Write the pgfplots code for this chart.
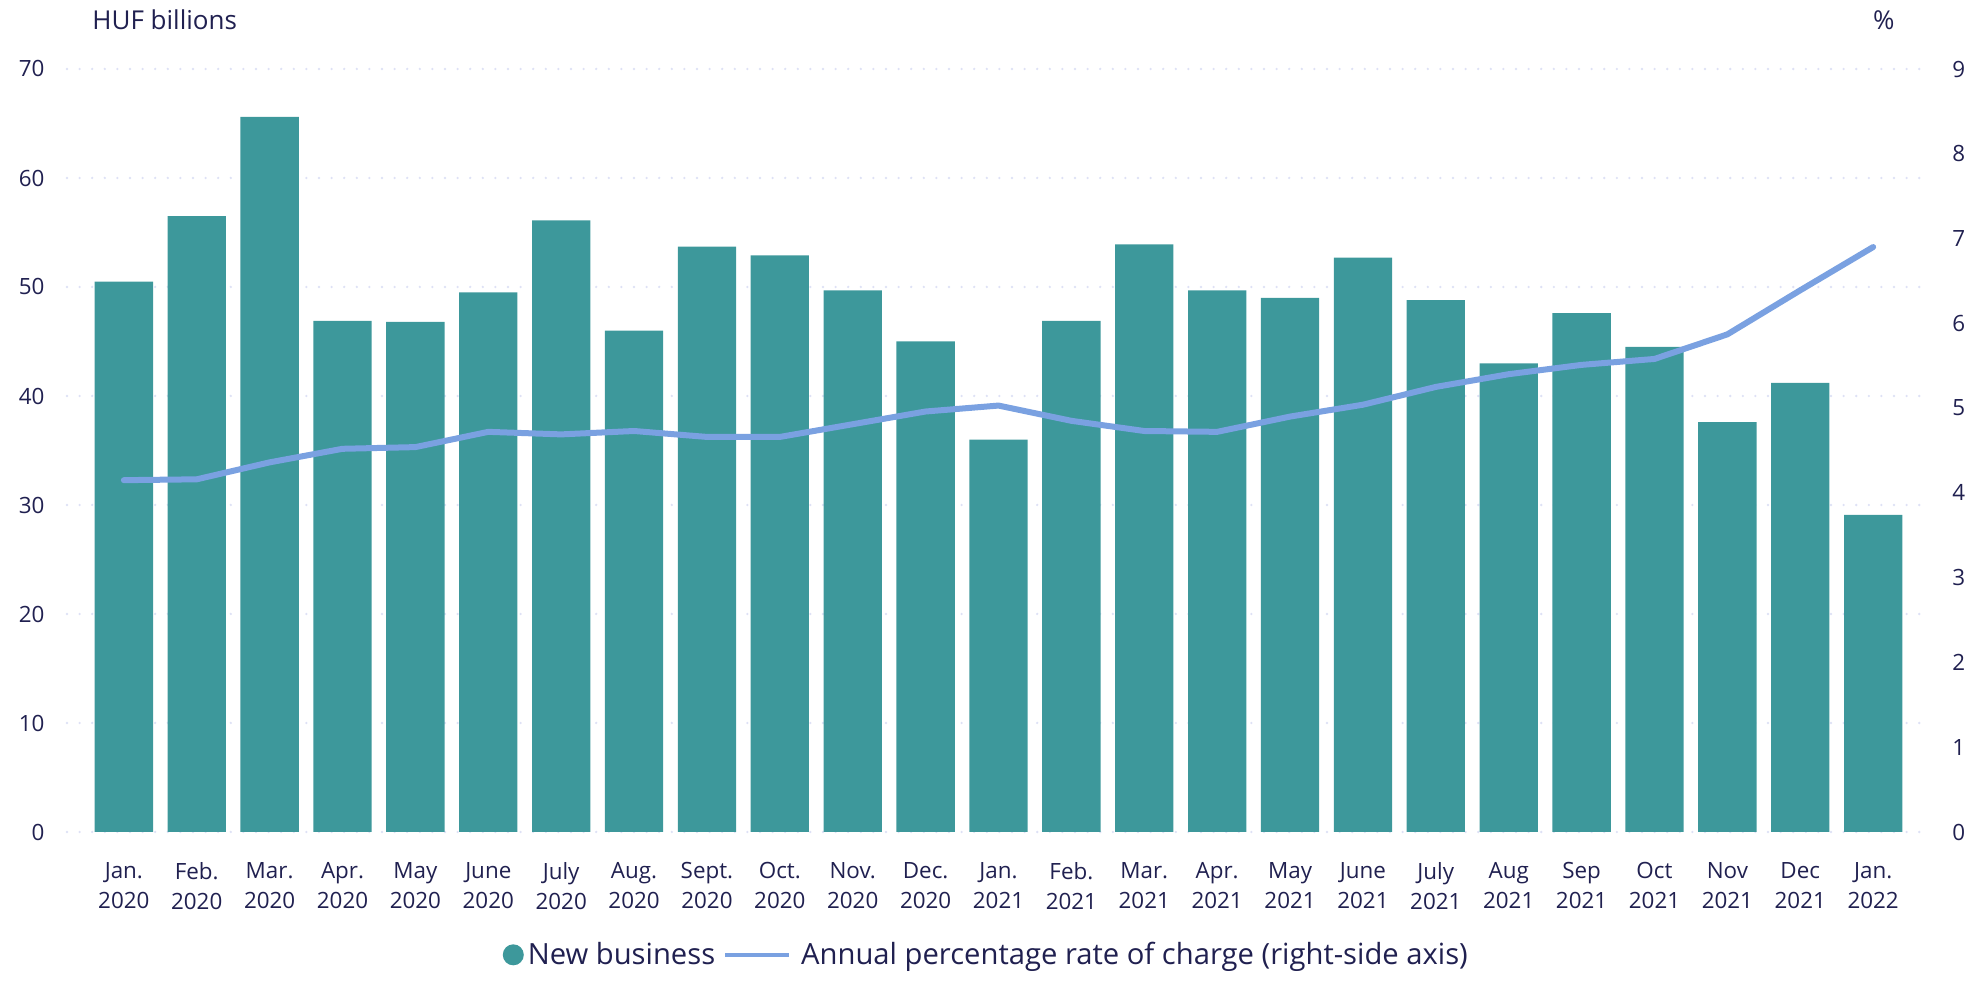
\documentclass[border=0pt]{standalone}
\usepackage{fontspec}
\setmainfont{Open Sans}
\usepackage{pgfplots}
\pgfplotsset{compat=1.18}
\definecolor{barc}{RGB}{61,152,155}
\definecolor{linec}{RGB}{122,161,225}
\definecolor{txt}{RGB}{32,32,80}
\definecolor{gridc}{RGB}{222,225,245}
\begin{document}
\begin{tikzpicture}
\path[use as bounding box] (-33.5pt,-83.5pt) rectangle (957.5pt,416pt);
\begin{axis}[
  scale only axis, width=931.5pt, height=381.5pt,
  clip=false,
  xmin=-0.78, xmax=24.78,
  ymin=0, ymax=70, ytick={0,10,...,70},
  axis y line*=left, axis x line*=bottom,
  axis line style={draw=none},
  major tick length=0pt,
  xtick={0,...,24},
  xticklabels={Jan.\\2020,Feb.\\2020,Mar.\\2020,Apr.\\2020,May\\2020,June\\2020,July\\2020,Aug.\\2020,Sept.\\2020,Oct.\\2020,Nov.\\2020,Dec.\\2020,Jan.\\2021,Feb.\\2021,Mar.\\2021,Apr.\\2021,May\\2021,June\\2021,July\\2021,Aug\\2021,Sep\\2021,Oct\\2021,Nov\\2021,Dec\\2021,Jan.\\2022},
  xticklabel style={align=center, font=\fontsize{11.2}{15}\selectfont, text=txt, anchor=north, yshift=-11.5pt},
  yticklabel style={font=\fontsize{11.2}{13}\selectfont, text=txt, xshift=-7.7pt},
  /pgf/number format/assume math mode=true,
  ymajorgrids,
  grid style={gridc, line width=1.3pt, dash pattern=on 0pt off 6.3pt, line cap=round},
  legend style={at={(0.494,-0.161)}, anchor=center, draw=none, fill=none,
    legend columns=2, font=\fontsize{14.6}{16}\selectfont, text=txt,
    /tikz/every even column/.append style={column sep=2pt},
    nodes={inner sep=2pt}},
  legend cell align=left,
]
\addplot[ybar, bar width=0.8, fill=barc, draw=none,
  legend image code/.code={\fill[barc] (4.5pt,0) circle (5.25pt);}]
  coordinates {
  (0,50.5) (1,56.5) (2,65.6) (3,46.9) (4,46.8) (5,49.5) (6,56.1) (7,46.0)
  (8,53.7) (9,52.9) (10,49.7) (11,45.0) (12,36.0) (13,46.9) (14,53.9) (15,49.7)
  (16,49.0) (17,52.7) (18,48.8) (19,43.0) (20,47.6) (21,44.5) (22,37.6) (23,41.2) (24,29.1)
  };
\addlegendentry{New business}
\addlegendimage{linec, line width=2pt, legend image code/.code={\draw[linec, line width=2pt] (0pt,0) -- (32pt,0); \path (35pt,0);}}
\addlegendentry{Annual percentage rate of charge (right-side axis)}
\node[anchor=base west, inner sep=0, text=txt, font=\fontsize{13}{15}\selectfont] at ([shift={(12.5pt,19.5pt)}]rel axis cs:0,1) {HUF billions};
\node[anchor=base east, inner sep=0, text=txt, font=\fontsize{13}{15}\selectfont] at ([shift={(-17.5pt,19.5pt)}]rel axis cs:1,1) {\%};
\end{axis}
\begin{axis}[
  scale only axis, width=931.5pt, height=381.5pt,
  xmin=-0.78, xmax=24.78,
  ymin=0, ymax=9, ytick={0,1,...,9},
  axis y line*=right, axis x line=none,
  axis line style={draw=none},
  major tick length=0pt,
  yticklabel style={font=\fontsize{11.2}{13}\selectfont, text=txt, xshift=7.7pt},
  /pgf/number format/assume math mode=true,
]
\addplot[linec, line width=3pt, line cap=round, line join=round] coordinates {
  (0,4.15) (1,4.16) (2,4.36) (3,4.52) (4,4.54) (5,4.72) (6,4.69) (7,4.73)
  (8,4.66) (9,4.66) (10,4.81) (11,4.96) (12,5.03) (13,4.85) (14,4.73) (15,4.72)
  (16,4.90) (17,5.04) (18,5.25) (19,5.40) (20,5.51) (21,5.58) (22,5.87) (23,6.39) (24,6.90)
  };
\end{axis}
\end{tikzpicture}
\end{document}
